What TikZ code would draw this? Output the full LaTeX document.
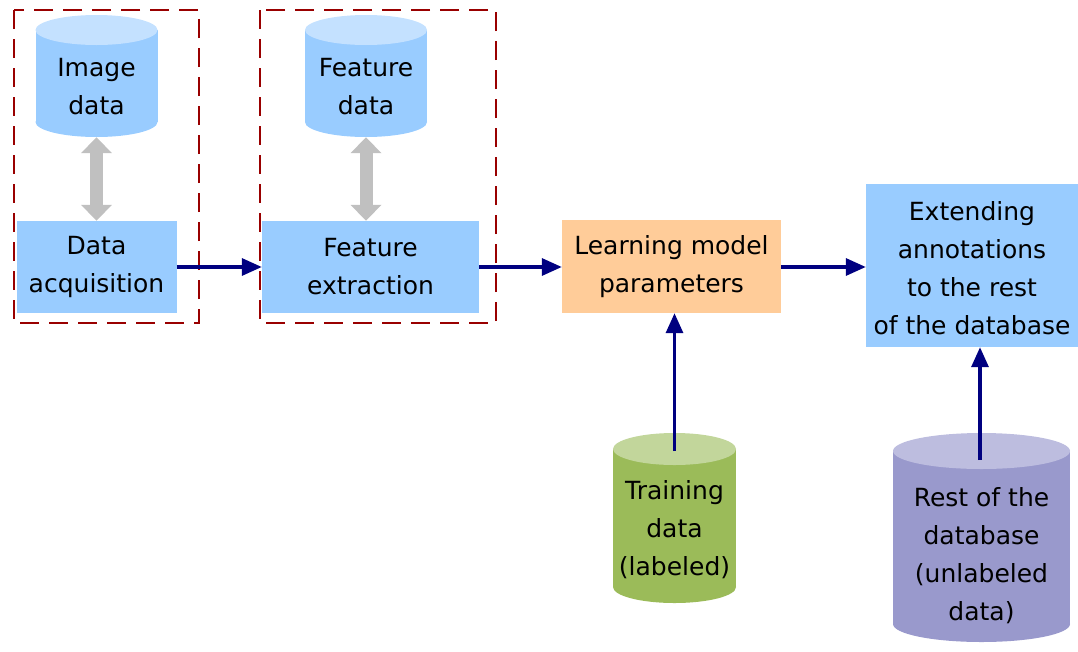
\documentclass[tikz,border=0pt]{standalone}
\usepackage{fontspec}
\setmainfont{DejaVu Sans}
\usetikzlibrary{arrows.meta}
\definecolor{boxblue}{HTML}{99CCFF}
\definecolor{topblue}{HTML}{C4E1FF}
\definecolor{peach}{HTML}{FFCC99}
\definecolor{green1}{HTML}{9BBB59}
\definecolor{green2}{HTML}{C2D69B}
\definecolor{purp1}{HTML}{9999CC}
\definecolor{purp2}{HTML}{BDBDDF}
\definecolor{dashred}{HTML}{990000}
\definecolor{navyline}{HTML}{000080}
\definecolor{grayarr}{HTML}{C0C0C0}
\tikzset{
  txt/.style={font=\fontsize{25}{38}\selectfont, align=center, text=black, inner sep=0},
  procbox/.style={fill=boxblue, draw=none, inner sep=0},
  groupbox/.style={draw=dashred, line width=2.2pt, dash pattern=on 19pt off 10pt},
  flow/.style={draw=navyline, line width=3.3pt, -{Triangle[length=20pt,width=17pt]}},
  dblarrow/.style={draw=grayarr, line width=13pt, {Triangle[length=16pt,width=30pt]}-{Triangle[length=16pt,width=30pt]}},
}
% \mycyl{name}{cx}{x-radius}{ytop}{ybot}{ry}{body}{top}
\newcommand{\mycyl}[8]{%
  \fill[#7] (#2-#3,#4+#6) rectangle (#2+#3,#5-#6);
  \fill[#7] (#2,#5-#6) ellipse [x radius=#3, y radius=#6];
  \fill[#8] (#2,#4+#6) ellipse [x radius=#3, y radius=#6];
  \node[inner sep=0, minimum width=2*#3, minimum height=#5-#4] (#1) at (#2,{(#4+#5)/2}) {};
}
\begin{document}
\begin{tikzpicture}[x=1pt,y=-1pt]
\useasboundingbox (0,0) rectangle (1078,651);
% dashed group boxes
\draw[groupbox] (14,10) rectangle (199,323);
\draw[groupbox] (260,10) rectangle (496,323);
% cylinders
\mycyl{imgcyl}{96.5}{61}{15}{137}{15}{boxblue}{topblue}
\node[txt] (imgtxt) at (96.5,87) {Image\\data};
\mycyl{featcyl}{366}{61}{15}{137}{15}{boxblue}{topblue}
\node[txt] (feattxt) at (366,87) {Feature\\data};
\mycyl{traincyl}{674.5}{61.5}{433}{603}{16}{green1}{green2}
\node[txt] (traintxt) at (674.5,530) {Training\\data\\(labeled)};
\mycyl{restcyl}{981.5}{88.5}{433}{642}{18}{purp1}{purp2}
\node[txt] (resttxt) at (981.5,556) {Rest of the\\database\\(unlabeled\\data)};
% process boxes
\node[procbox, minimum width=160, minimum height=92] (acq) at (96.5,267) {};
\node[txt] at (acq) {Data\\acquisition};
\node[procbox, minimum width=217, minimum height=92] (fext) at (370.5,267) {};
\node[txt] at (fext) {Feature\\extraction};
\node[fill=peach, inner sep=0, minimum width=219, minimum height=93] (learn) at (671.5,266.5) {};
\node[txt] at (learn) {Learning model\\parameters};
\node[procbox, minimum width=212, minimum height=163] (ext) at (972,265.5) {};
\node[txt] at (972,268) {Extending\\annotations\\to the rest\\of the database};
% gray double arrows
\draw[dblarrow] (imgcyl.south) -- (acq.north);
\draw[dblarrow] (featcyl.south) -- (featcyl.south |- fext.north);
% flow arrows
\draw[flow] (acq.east |- 0,267) -- (fext.west |- 0,267);
\draw[flow] (fext.east |- 0,267) -- (learn.west |- 0,267);
\draw[flow] (learn.east |- 0,267) -- (ext.west |- 0,267);
\coordinate (trainstart) at (674.5,451);
\coordinate (reststart) at (980,460);
\draw[flow] (trainstart) -- (learn.south -| trainstart);
\draw[flow] (reststart) -- (ext.south -| reststart);
\end{tikzpicture}
\end{document}
